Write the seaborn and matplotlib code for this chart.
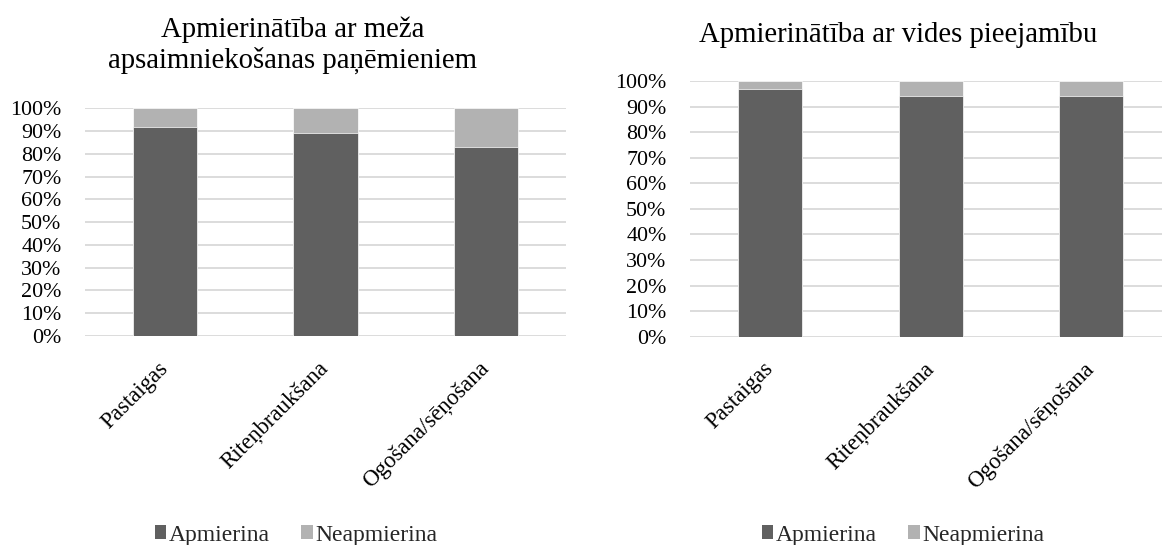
import matplotlib
matplotlib.use("Agg")
import matplotlib.pyplot as plt
import seaborn as sns
import pandas as pd
from matplotlib.patches import Patch
from matplotlib.ticker import PercentFormatter

# Survey results: share of respondents (%) per activity
categories = ["Pastaigas", "Riteņbraukšana", "Ogošana/sēņošana"]
series_names = ["Apmierina", "Neapmierina"]

mgmt_satisfied = [92, 89, 83]
mgmt_unsatisfied = [8, 11, 17]

access_satisfied = [97, 94, 94.3]
access_unsatisfied = [3, 6, 5.7]

title_mgmt_lines = ["Apmierinātība ar meža", "apsaimniekošanas paņēmieniem"]
title_access = "Apmierinātība ar vides pieejamību"

ytick_values = list(range(0, 101, 10))

DARK = "#606060"
LIGHT = "#b2b2b2"
GRID = "#d9d9d9"

sns.set_theme(style="white")
plt.rcParams["font.family"] = ["Liberation Serif", "DejaVu Serif"]

fig = plt.figure(figsize=(11.62, 5.45), dpi=100)
W, H = 1162, 545


def axes_from_px(left, right, top, bottom):
    return fig.add_axes([left / W, 1 - bottom / H, (right - left) / W, (bottom - top) / H])


def stacked(ax, satisfied, unsatisfied):
    df = pd.DataFrame({
        "kat": categories,
        "sat": satisfied,
        "total": [s + u for s, u in zip(satisfied, unsatisfied)],
    })
    ax.set_axisbelow(True)
    sns.barplot(data=df, x="kat", y="total", color=LIGHT, width=0.4,
                saturation=1, ax=ax, edgecolor="white", linewidth=0.5)
    sns.barplot(data=df, x="kat", y="sat", color=DARK, width=0.4,
                saturation=1, ax=ax, edgecolor="white", linewidth=0.5)
    ax.set_ylim(0, 100)
    ax.set_xlim(-0.5, 2.5)
    ax.set_yticks(ytick_values)
    ax.yaxis.set_major_formatter(PercentFormatter(decimals=0))
    ax.grid(axis="y", color=GRID, linewidth=1.3)
    ax.grid(axis="x", visible=False)
    for s in ax.spines.values():
        s.set_visible(False)
    ax.set_xlabel("")
    ax.set_ylabel("")
    ax.tick_params(axis="y", length=0, pad=17, labelsize=15.8, labelcolor="#000000")
    ax.tick_params(axis="x", length=0, pad=21, labelsize=16.5, labelcolor="#000000")
    ax.set_xticks(range(len(categories)))
    ax.set_xticklabels(categories, rotation=45, ha="right", rotation_mode="anchor",
                       va="center")


ax1 = axes_from_px(85, 566, 108.3, 336)
stacked(ax1, mgmt_satisfied, mgmt_unsatisfied)

ax2 = axes_from_px(690, 1171.5, 81, 336.7)
stacked(ax2, access_satisfied, access_unsatisfied)

for line, base_y in zip(title_mgmt_lines, (36.7, 67.5)):
    fig.text(293 / W, 1 - base_y / H, line, ha="center", va="baseline",
             fontsize=20.7, color="#000000")
fig.text(898 / W, 1 - 41.7 / H, title_access, ha="center", va="baseline",
         fontsize=20.7, color="#000000")

handles = [Patch(facecolor=DARK, edgecolor="none"), Patch(facecolor=LIGHT, edgecolor="none")]
for cx in (296, 903):
    fig.legend(handles, series_names, loc="center", bbox_to_anchor=(cx / W, 1 - 535 / H),
               ncol=2, frameon=False, fontsize=17, handlelength=0.5, handleheight=0.5,
               handletextpad=0.12, columnspacing=1.3, borderpad=0)

fig.savefig("out.png", dpi=100)
